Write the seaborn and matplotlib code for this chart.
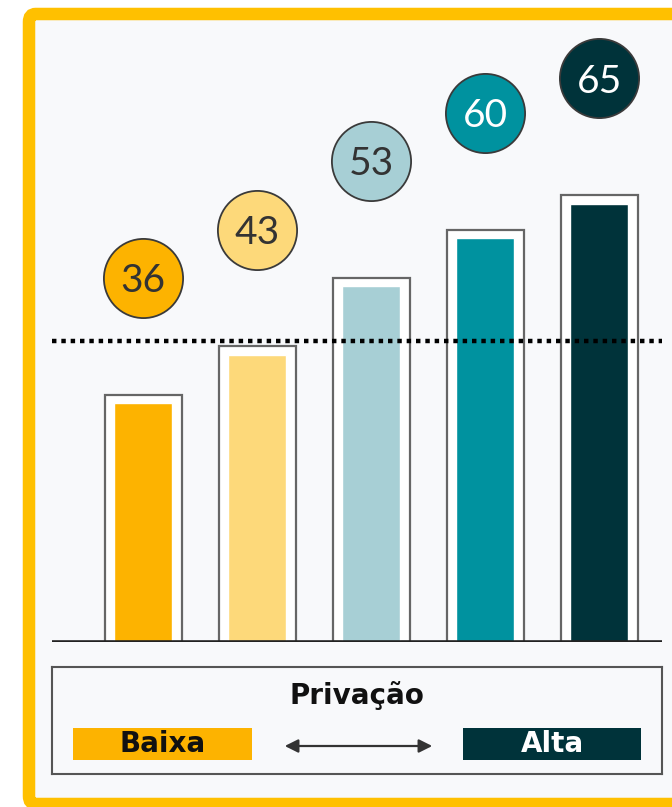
# libraries
import seaborn as sns
import matplotlib.pyplot as plt
from matplotlib.patches import FancyBboxPatch, Rectangle

# data
categories = ["Q1", "Q2", "Q3", "Q4", "Q5"]
values = [36, 43, 53, 60, 65]
average = 43.8
colors = ["#FDB300", "#FDD97A", "#A7CFD5", "#00929F", "#00333A"]
label_colors = ["#333333", "#333333", "#333333", "#FFFFFF", "#FFFFFF"]
legend_title = "Privação"
legend_low = "Baixa"
legend_high = "Alta"

sns.set_style("white")
plt.rcParams["font.family"] = ["Lato", "DejaVu Sans"]

W, H = 672, 807
fig = plt.figure(figsize=(W / 100, H / 100), dpi=100)
fig.patch.set_facecolor("white")

def px(x, y, w, h):
    # pixel box (top-left origin) -> figure fraction
    return [x / W, 1 - (y + h) / H, w / W, h / H]

# yellow frame with light panel (kept behind the axes)
frame = FancyBboxPatch((29 / W, 1 - 804 / H), 700 / W, 790 / H,
                       boxstyle="round,pad=0,rounding_size=0.01",
                       transform=fig.transFigure, facecolor="#F8F9FB",
                       edgecolor="#FFC000", linewidth=9, zorder=-10)
fig.patches.append(frame)

# bar area
ax = fig.add_axes(px(52, 20, 610, 622))
ax.set_facecolor("none")
sns.barplot(x=categories, y=values, color="white", edgecolor="#666666",
            linewidth=1.6, width=0.675, saturation=1, ax=ax)
sns.barplot(x=categories, y=[v - 1.2 for v in values], hue=categories,
            palette=colors, width=0.51, saturation=1, legend=False, ax=ax)

# value bubbles above bars
for i, v in enumerate(values):
    ax.scatter(i, v + 17, s=3250, color=colors[i], edgecolors="#3a3a3a",
               linewidths=1.3, zorder=5, clip_on=False)
    ax.text(i, v + 17, str(v), ha="center", va="center_baseline",
            fontsize=28, color=label_colors[i], zorder=6)

ax.axhline(average, color="black", linewidth=3.2, linestyle=(0, (1, 1.1)),
           zorder=4)
ax.axhline(0, color="#222222", linewidth=2.6, zorder=4)

ax.set_xlim(-0.8, 4.55)
ax.set_ylim(0, 90.5)
ax.set_xticks([])
ax.set_yticks([])
ax.set_xlabel("")
ax.set_ylabel("")
sns.despine(ax=ax, left=True, bottom=True)

# legend box
lg = fig.add_axes(px(52, 667, 610, 107))
lg.set_facecolor("none")
lg.set_xlim(0, 610)
lg.set_ylim(107, 0)
lg.set_xticks([])
lg.set_yticks([])
for s in lg.spines.values():
    s.set_color("#555555")
    s.set_linewidth(1.5)

bold = dict(fontsize=20, fontweight="bold", family=["DejaVu Sans"])
lg.text(305, 28, legend_title, ha="center", va="center", color="#111111", **bold)
lg.add_patch(Rectangle((21, 61), 179, 32, facecolor=colors[0], edgecolor="none"))
lg.add_patch(Rectangle((411, 61), 178, 32, facecolor=colors[-1], edgecolor="none"))
lg.text(111, 77, legend_low, ha="center", va="center", color="#111111", **bold)
lg.text(500, 77, legend_high, ha="center", va="center", color="white", **bold)
lg.annotate("", xy=(383, 79), xytext=(230, 79),
            arrowprops=dict(arrowstyle="<|-|>", color="#333333", lw=1.6,
                            mutation_scale=20))

fig.savefig("out.png", dpi=100, facecolor=fig.get_facecolor())
